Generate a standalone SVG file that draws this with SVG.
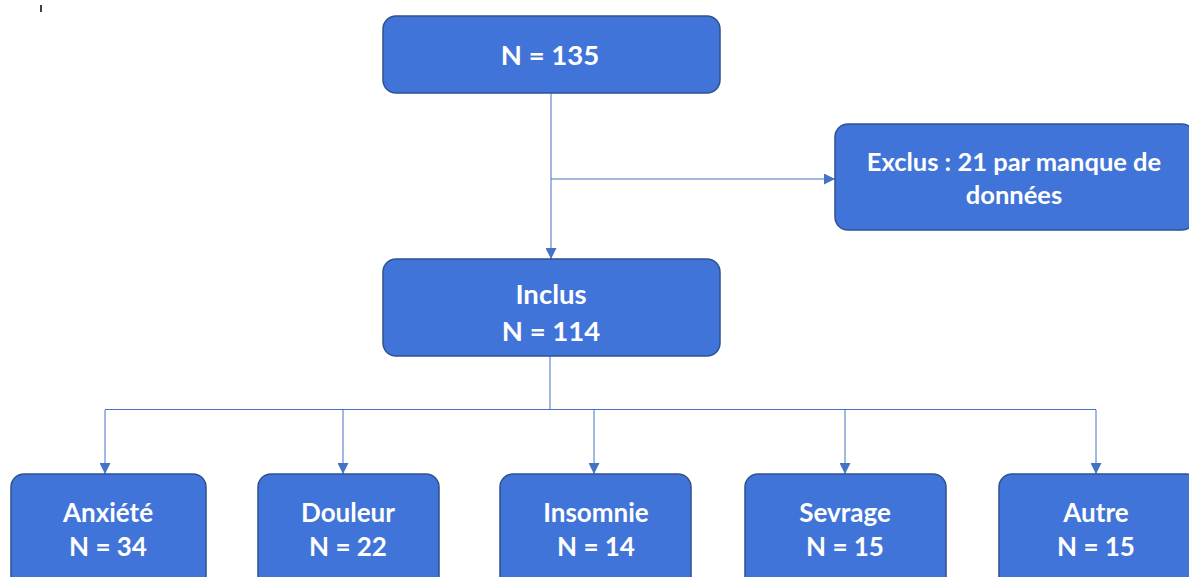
<svg xmlns="http://www.w3.org/2000/svg" width="1189" height="577" viewBox="0 0 1189 577">
<defs>
<style>
.box{fill:#4174D9;stroke:#2F528F;stroke-width:1.5}
.t{fill:#fff;font-family:Lato,"Open Sans",sans-serif;font-weight:bold;font-size:26px;text-anchor:middle}
.m{font-size:27.5px}
.s{font-size:25.5px}
.c{fill:none;stroke:#4472C4;stroke-width:1}
</style>
<marker id="a" viewBox="0 0 10 10" refX="10" refY="5" markerWidth="11" markerHeight="11" markerUnits="userSpaceOnUse" orient="auto">
<path d="M0,0 L10,5 L0,10 z" fill="#4472C4"/>
</marker>
</defs>
<rect width="1189" height="577" fill="#fff"/>
<line x1="41" y1="5" x2="41" y2="12" stroke="#000" stroke-width="1.5"/>
<g id="connectors">
<path class="c" d="M551,93 V259" marker-end="url(#a)"/>
<path class="c" d="M551,179 H835" marker-end="url(#a)"/>
<path class="c" d="M550,356 V410"/>
<path class="c" d="M105,409.5 H1096"/>
<path class="c" d="M105,410 V474" marker-end="url(#a)"/>
<path class="c" d="M343,410 V474" marker-end="url(#a)"/>
<path class="c" d="M594,410 V474" marker-end="url(#a)"/>
<path class="c" d="M845,410 V474" marker-end="url(#a)"/>
<path class="c" d="M1096,410 V474" marker-end="url(#a)"/>
</g>
<g id="n135"><rect class="box" x="383" y="16" width="337" height="77" rx="13"/><text class="t m" x="550" y="65">N = 135</text></g>
<g id="exclus"><rect class="box" x="835" y="124" width="360" height="106" rx="13"/><text class="t s" x="1014" y="171">Exclus : 21 par manque de</text><text class="t s" x="1014" y="204">données</text></g>
<g id="inclus"><rect class="box" x="383" y="259" width="337" height="97" rx="13"/><text class="t m" x="551" y="304">Inclus</text><text class="t m" x="551" y="341">N = 114</text></g>
<g id="anxiete"><rect class="box" x="11" y="474" width="195" height="120" rx="13"/><text class="t" x="108" y="522">Anxiété</text><text class="t" x="108" y="556">N = 34</text></g>
<g id="douleur"><rect class="box" x="258" y="474" width="181" height="120" rx="13"/><text class="t" x="348" y="522">Douleur</text><text class="t" x="348" y="556">N = 22</text></g>
<g id="insomnie"><rect class="box" x="500" y="474" width="191" height="120" rx="13"/><text class="t" x="596" y="522">Insomnie</text><text class="t" x="596" y="556">N = 14</text></g>
<g id="sevrage"><rect class="box" x="745" y="474" width="201" height="120" rx="13"/><text class="t" x="845" y="522">Sevrage</text><text class="t" x="845" y="556">N = 15</text></g>
<g id="autre"><rect class="box" x="999" y="474" width="200" height="120" rx="13"/><text class="t" x="1096" y="522">Autre</text><text class="t" x="1096" y="556">N = 15</text></g>
</svg>
